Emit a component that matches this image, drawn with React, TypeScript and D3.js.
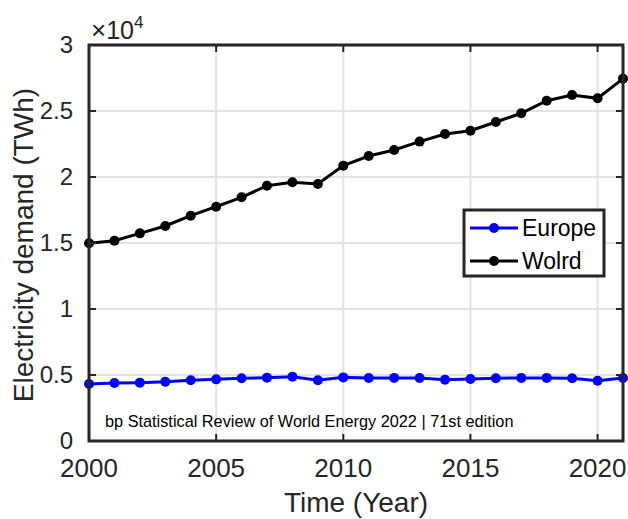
import React from 'react';
import * as d3 from 'd3';

const years = d3.range(2000, 2022);

// Electricity demand, in 10^4 TWh
const europe = [
  0.432, 0.439, 0.442, 0.449, 0.46, 0.467, 0.475, 0.48, 0.487, 0.46, 0.482,
  0.477, 0.478, 0.477, 0.464, 0.47, 0.475, 0.478, 0.478, 0.475, 0.457, 0.477,
];
const world = [
  1.498, 1.517, 1.573, 1.629, 1.707, 1.775, 1.846, 1.934, 1.96, 1.947, 2.086,
  2.159, 2.205, 2.268, 2.326, 2.351, 2.417, 2.483, 2.578, 2.621, 2.596, 2.745,
];

const xTicks = [2000, 2005, 2010, 2015, 2020];
const yTicks = [0, 0.5, 1, 1.5, 2, 2.5, 3];

const seriesNames = ['Europe', 'Wolrd'];
const seriesColors = ['#0000ff', '#000000'];

const W = 628;
const H = 519;
const margin = { top: 45, right: 5, bottom: 78, left: 89 };
const axisColor = '#262626';
const font = 'Liberation Sans, Arial, Helvetica, sans-serif';

export default function App() {
  const x = d3.scaleLinear().domain([2000, 2021]).range([margin.left, W - margin.right]);
  const y = d3.scaleLinear().domain([0, 3]).range([H - margin.bottom, margin.top]);

  const [x0, x1] = x.range();
  const [y0, y1] = y.range(); // y0 bottom, y1 top

  const line = d3.line<number>()
    .x((_, i) => x(years[i]))
    .y(d => y(d));

  const series = [europe, world];
  const tickLen = 7;

  return (
    <svg
      width={W}
      height={H}
      style={{ position: 'absolute', left: 0, top: 0, background: '#fff' }}
      fontFamily={font}
    >
      <rect x={0} y={0} width={W} height={H} fill="#fff" />

      {/* grid */}
      {xTicks.map(t => (
        <line key={'gx' + t} x1={x(t)} x2={x(t)} y1={y0} y2={y1} stroke="#e3e3e3" strokeWidth={2} />
      ))}
      {yTicks.map(t => (
        <line key={'gy' + t} x1={x0} x2={x1} y1={y(t)} y2={y(t)} stroke="#e3e3e3" strokeWidth={2} />
      ))}

      {/* series */}
      {series.map((s, si) => (
        <g key={si}>
          <path d={line(s) || ''} fill="none" stroke={seriesColors[si]} strokeWidth={3} />
          {s.map((v, i) => (
            <circle key={i} cx={x(years[i])} cy={y(v)} r={5} fill={seriesColors[si]} />
          ))}
        </g>
      ))}

      {/* box + ticks */}
      <rect x={x0} y={y1} width={x1 - x0} height={y0 - y1} fill="none" stroke={axisColor} strokeWidth={3} />
      {xTicks.map(t => (
        <g key={'tx' + t}>
          <line x1={x(t)} x2={x(t)} y1={y0} y2={y0 - tickLen} stroke={axisColor} strokeWidth={2} />
          <line x1={x(t)} x2={x(t)} y1={y1} y2={y1 + tickLen} stroke={axisColor} strokeWidth={2} />
          <text x={x(t)} y={y0 + 36} textAnchor="middle" fontSize={26} fill={axisColor}>{t}</text>
        </g>
      ))}
      {yTicks.map(t => (
        <g key={'ty' + t}>
          <line x1={x0} x2={x0 + tickLen} y1={y(t)} y2={y(t)} stroke={axisColor} strokeWidth={2} />
          <line x1={x1} x2={x1 - tickLen} y1={y(t)} y2={y(t)} stroke={axisColor} strokeWidth={2} />
          <text x={x0 - 16} y={y(t) + 8} textAnchor="end" fontSize={24} fill={axisColor}>{t}</text>
        </g>
      ))}

      {/* exponent */}
      <text x={x0 + 2} y={y1 - 6} fontSize={25} fill={axisColor}>
        <tspan fontSize={26} fontWeight={300}>×</tspan>10<tspan dy={-11} fontSize={17}>4</tspan>
      </text>

      {/* axis labels */}
      <text x={(x0 + x1) / 2} y={512} textAnchor="middle" fontSize={28} fill={axisColor}>
        Time (Year)
      </text>
      <text
        transform={`translate(33,${(y0 + y1) / 2 + 2}) rotate(-90)`}
        textAnchor="middle"
        fontSize={28}
        fill={axisColor}
      >
        Electricity demand (TWh)
      </text>

      {/* source note */}
      <text x={105} y={427} fontSize={16.3} fill="#000">
        bp Statistical Review of World Energy 2022 | 71st edition
      </text>

      {/* legend */}
      <g>
        <rect x={464} y={210} width={140} height={66} fill="#fff" stroke={axisColor} strokeWidth={3} />
        {seriesNames.map((n, i) => {
          const ly = 228 + i * 33;
          return (
            <g key={n}>
              <line x1={470} x2={518} y1={ly} y2={ly} stroke={seriesColors[i]} strokeWidth={3} />
              <circle cx={494} cy={ly} r={5} fill={seriesColors[i]} />
              <text x={522} y={ly + 8} fontSize={23} fill="#000">{n}</text>
            </g>
          );
        })}
      </g>
    </svg>
  );
}
